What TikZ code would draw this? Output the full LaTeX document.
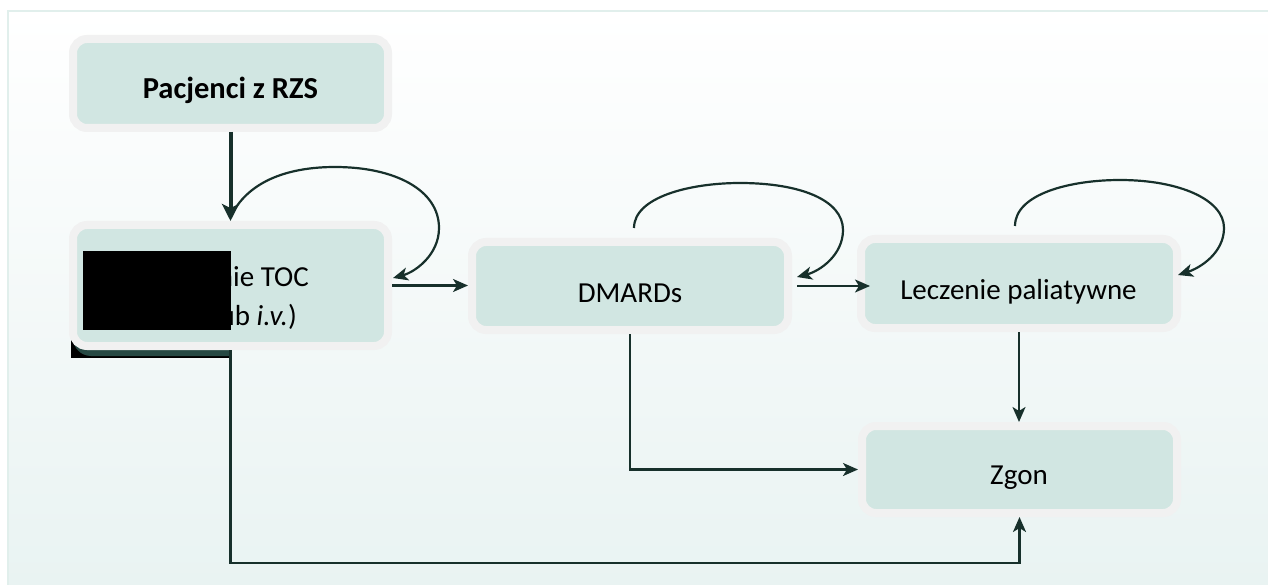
\documentclass[tikz,border=0pt]{standalone}
\usepackage{fontspec}
\setmainfont{Carlito}
\usetikzlibrary{arrows.meta}
\definecolor{halo}{HTML}{F1F1F1}
\definecolor{boxfill}{HTML}{D1E6E2}
\definecolor{ink}{HTML}{17302B}
\definecolor{framec}{HTML}{E1EFEC}
\definecolor{bgbot}{HTML}{E9F3F2}
\definecolor{shadowteal}{HTML}{264943}
\begin{document}
\begin{tikzpicture}[x=1pt,y=-1pt,
  box/.style={draw=halo, line width=8pt, fill=boxfill, rounded corners=14pt,
    minimum width=315pt, minimum height=89pt, inner sep=0pt},
  lbl/.style={font=\fontsize{29}{35}\selectfont, text=black, anchor=base, inner sep=0pt},
  conn/.style={draw=ink, line width=2.2pt, -{Stealth[length=15pt,width=13pt,inset=4pt]}},
]
\useasboundingbox (0,0) rectangle (1268,585);
\shade[top color=white, bottom color=bgbot] (8,11) rectangle (1268,585);
\draw[framec, line width=2pt] (8,585) -- (8,11) -- (1268,11);

% shadow artefact under the redacted box
\begin{scope}
  \clip (71,330) rectangle (231,358);
  \fill[black] (71,330) rectangle (231,358);
  \fill[shadowteal, rounded corners=18pt] (73,225) rectangle (400,356);
\end{scope}

\node[box, minimum height=89pt] (pac) at (230.5,83.5) {};
\node[box, minimum height=121pt] (toc) at (230.5,285.5) {};
\node[box, minimum width=316pt, minimum height=88pt] (dm) at (630,286) {};
\node[box, minimum width=316pt] (lp) at (1019,283.5) {};
\node[box, minimum height=87pt] (zg) at (1019.5,469.5) {};

\node[lbl, font=\fontsize{30.5}{36}\selectfont\bfseries] (pact) at (230.5,99) {Pacjenci z RZS};
\node[lbl, anchor=base east] (toct1) at (309,286.7) {Leczenie TOC};
\node[lbl, anchor=base east] (toct2) at (297,325.7) {(\textit{s.c.} lub \textit{i.v.})};
\node[lbl] (dmt) at (630,302.3) {DMARDs};
\node[lbl] (lpt) at (1018.5,299.3) {Leczenie paliatywne};
\node[lbl] (zgt) at (1019,484) {Zgon};

% redaction
\fill[black] (83,251) rectangle (231,330);

% connectors
\coordinate (tocloopA) at (232,214);
\coordinate (tocloopB) at (393,278);
\coordinate (dmloopA) at (634,228);
\coordinate (dmloopB) at (797,277);
\coordinate (lploopA) at (1015,226);
\coordinate (lploopB) at (1178,275);
\coordinate (lowline) at (0,563);

\draw[conn, line width=4pt, -{Stealth[length=17pt,width=17pt,inset=4pt]}] (pac.south) -- (toc.north);
\draw[conn] (tocloopA) .. controls (250,180) and (290,167) .. (335,167)
  .. controls (395,167) and (439,190) .. (439,228)
  .. controls (439,255) and (415,272) .. (tocloopB);
\draw[conn] (toc.east) -- (toc.east -| dm.west);
\draw[conn] (dmloopA) .. controls (634,197) and (690,183) .. (740,183)
  .. controls (800,183) and (843,200) .. (843,230)
  .. controls (843,255) and (820,271) .. (dmloopB);
\draw[conn] ([xshift=5pt]dm.east) -- ([xshift=13pt]lp.west |- dm.east);
\draw[conn] (lploopA) .. controls (1015,194) and (1070,180) .. (1120,180)
  .. controls (1180,180) and (1224,200) .. (1224,228)
  .. controls (1224,253) and (1200,268) .. (lploopB);
\draw[conn] (lp.south) -- (lp.south |- zg.north);
\draw[conn] (dm.south) |- (zg.west);
\draw[conn] (toc.south) -- (toc.south |- lowline) -| (zg.south);
\end{tikzpicture}
\end{document}
